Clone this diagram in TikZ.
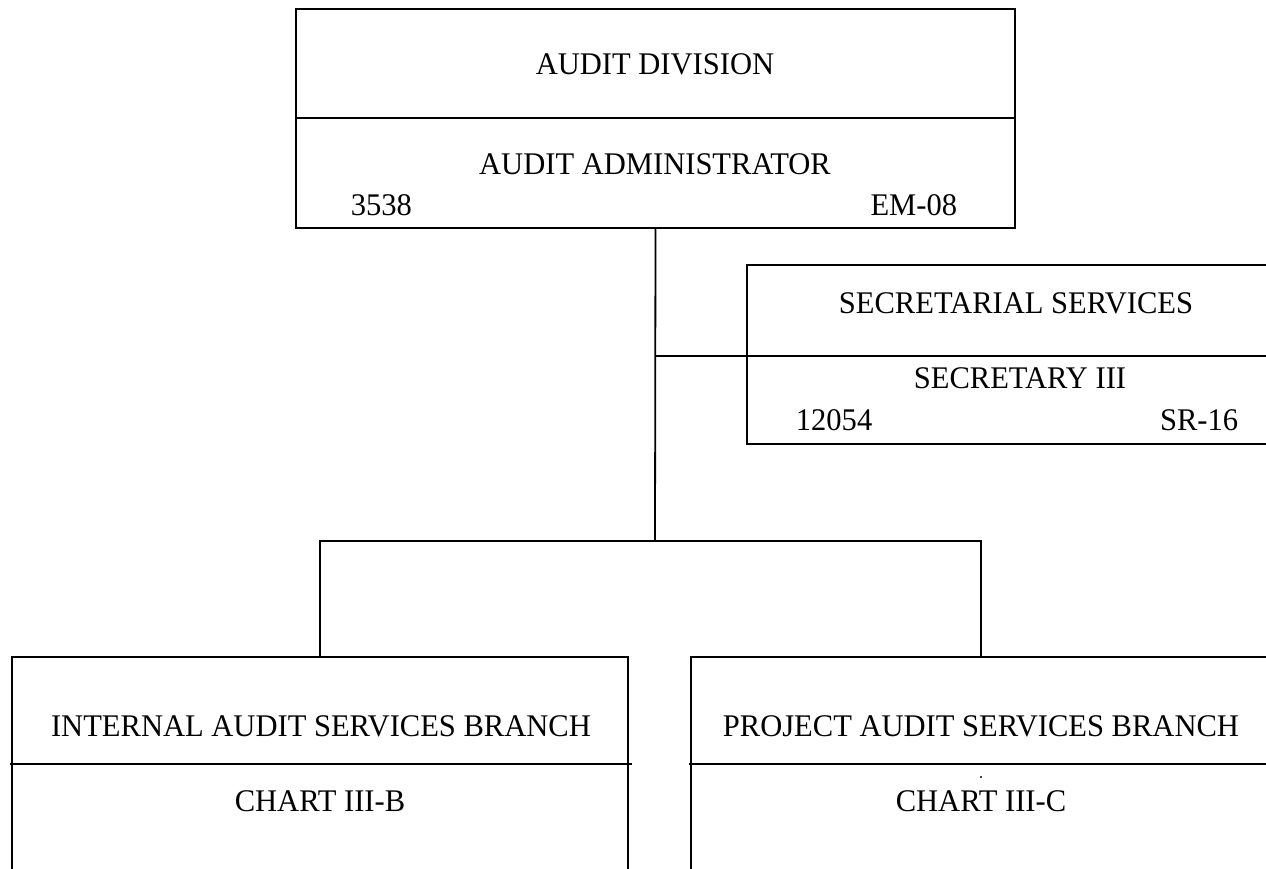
\documentclass[tikz,border=0pt]{standalone}
\usepackage{fontspec}
\setmainfont{Liberation Serif}[FakeStretch=0.97]
\usepackage{tikz}
\usetikzlibrary{positioning}

\begin{document}
\begin{tikzpicture}[x=1pt,y=-1pt,line width=1.8pt,
	box/.style={draw,rectangle,inner sep=0pt,outer sep=0pt},
	lbl/.style={inner sep=0pt,anchor=base,font=\fontsize{31.5}{34}\selectfont}]
	\clip (0,0) rectangle (1266,869);

	\node[box,minimum width=719pt,minimum height=109pt] (1) at (655.5,63.5) {};
	\node[box,minimum width=719pt,minimum height=110pt] (1b) [below=0pt of 1] {};
	\node[box,minimum width=542pt,minimum height=91pt] (2) at (1018,310.5) {};
	\node[box,minimum width=542pt,minimum height=88pt] (2b) [below=0pt of 2] {};
	\node[box,minimum width=616pt,minimum height=107pt] (3) at (320,710.5) {};
	\node[box,minimum width=616pt,minimum height=150pt] (3b) [below=0pt of 3] {};
	\node[box,minimum width=580pt,minimum height=107pt] (4) at (981,710.5) {};
	\node[box,minimum width=580pt,minimum height=150pt] (4b) [below=0pt of 4] {};
	\coordinate (bus) at (655,541);

	\node[lbl] at (655,75) {AUDIT DIVISION};
	\node[lbl] at (655,175) {AUDIT ADMINISTRATOR};
	\node[lbl,anchor=base west] at (350,215) {3538};
	\node[lbl,anchor=base east] at (958,215) {EM-08};
	\node[lbl] at (1016,313) {SECRETARIAL SERVICES};
	\node[lbl] at (1020,388) {SECRETARY III};
	\node[lbl,anchor=base west] at (795,430) {12054};
	\node[lbl,anchor=base east] at (1239,430) {SR-16};
	\node[lbl] at (321,736) {INTERNAL AUDIT SERVICES BRANCH};
	\node[lbl] at (320,811) {CHART III-B};
	\node[lbl] at (981,736) {PROJECT AUDIT SERVICES BRANCH};
	\node[lbl] at (981,811) {CHART III-C};
	\fill (981,777) circle (1.1pt);

	\draw (1b.south) -- (bus);
	\draw (1b.south |- 2b.north west) -- (2b.north west);
	\draw (3.north) |- (bus) -| (4.north);
	\draw ([xshift=-2pt]3b.north west) -- ([xshift=4pt]3b.north east);
	\draw ([xshift=-2pt]4b.north west) -- (4b.north east);
\end{tikzpicture}
\end{document}
